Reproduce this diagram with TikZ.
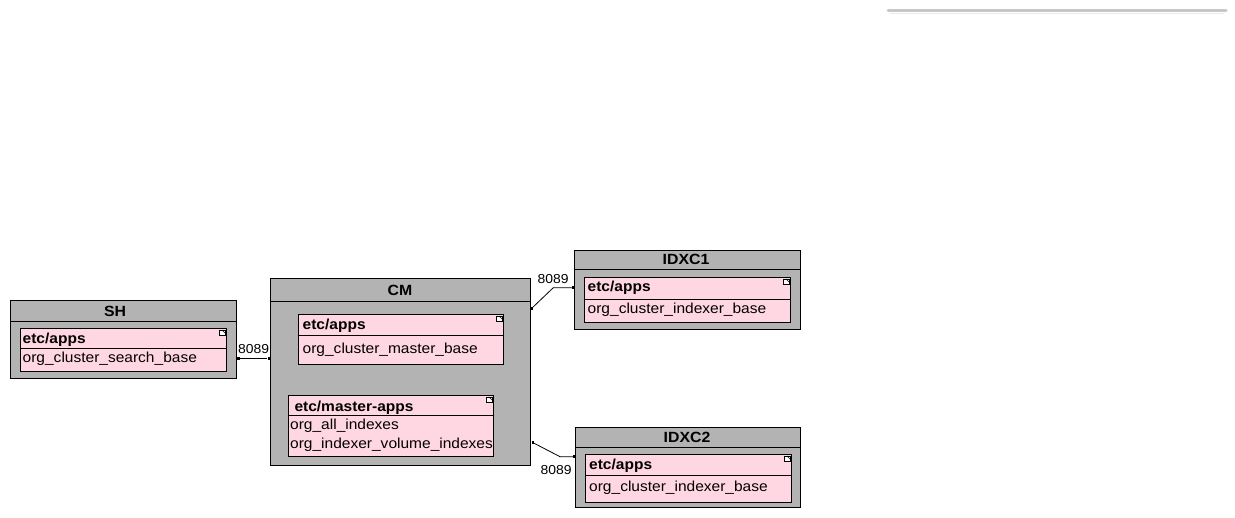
\documentclass[tikz,border=0pt]{standalone}
\usepackage{fontspec}
\setmainfont{Liberation Sans}[FakeStretch=1.07]
\definecolor{boxgray}{RGB}{179,179,179}
\definecolor{notepink}{RGB}{255,215,227}
\begin{document}
\begin{tikzpicture}[x=1pt,y=-1pt,
  outerbox/.style={draw=black,line width=1pt,fill=boxgray,anchor=north west,inner sep=0pt,outer sep=0pt},
  pinkbox/.style={draw=black,line width=1pt,fill=notepink,anchor=north west,inner sep=0pt,outer sep=0pt},
  txt/.style={inner sep=0pt,anchor=base west,font=\fontsize{14.5pt}{17pt}\selectfont},
  btxt/.style={txt,font=\fontsize{14.5pt}{17pt}\selectfont\bfseries},
  hdr/.style={inner sep=0pt,anchor=base,font=\fontsize{14.8pt}{17pt}\selectfont\bfseries},
  lbl/.style={inner sep=0pt,anchor=base west,font=\fontsize{13pt}{15pt}\selectfont},
  pin/.style={fill=black,inner sep=0pt,minimum size=3pt},
  conn/.style={draw=black,line width=0.8pt}
]
\useasboundingbox (0,0) rectangle (1235,518);
\fill[white] (0,0) rectangle (1235,518);
% faint shadow bar at top right
\draw[line width=3pt,black!22,line cap=round] (888,10.5) -- (1226,10.5);
\draw[line width=1.5pt,black!8] (890,13.5) -- (1224,13.5);

% ---------- SH ----------
\node[outerbox,minimum width=226pt,minimum height=78pt] (SH) at (10,301) {};
\draw[line width=1pt] ([yshift=-20.5pt]SH.north west) -- ([yshift=-20.5pt]SH.north east);
\node[hdr] (SHt) at (115,316.5) {SH};
\node[pinkbox,minimum width=206pt,minimum height=43pt] (SHp) at (20,329) {};
\draw[line width=1pt] ([yshift=-20pt]SHp.north west) -- ([yshift=-20pt]SHp.north east);
\node[btxt] (SHa) at (22.5,343.5) {etc/apps};
\node[txt] (SHb) at (22.5,362.7) {org\_cluster\_search\_base};

% ---------- CM ----------
\node[outerbox,minimum width=260pt,minimum height=187pt] (CM) at (270,279) {};
\draw[line width=1pt] ([yshift=-22.5pt]CM.north west) -- ([yshift=-22.5pt]CM.north east);
\node[hdr] (CMt) at (400,296) {CM};
\node[pinkbox,minimum width=205pt,minimum height=50pt] (CMp1) at (298,315) {};
\draw[line width=1pt] ([yshift=-20.7pt]CMp1.north west) -- ([yshift=-20.7pt]CMp1.north east);
\node[btxt] (CMa) at (302.5,330) {etc/apps};
\node[txt] (CMb) at (302.5,353.5) {org\_cluster\_master\_base};
\node[pinkbox,minimum width=205pt,minimum height=61pt] (CMp2) at (288,396) {};
\draw[line width=1pt] ([yshift=-20pt]CMp2.north west) -- ([yshift=-20pt]CMp2.north east);
\node[btxt] (CMc) at (294.3,411.3) {etc/master-apps};
\node[txt] (CMd) at (290,429.3) {org\_all\_indexes};
\node[txt] (CMe) at (290,448.7) {org\_indexer\_volume\_indexes};

% ---------- IDXC1 ----------
\node[outerbox,minimum width=226pt,minimum height=79pt] (I1) at (574,251) {};
\draw[line width=1pt] ([yshift=-19pt]I1.north west) -- ([yshift=-19pt]I1.north east);
\node[hdr] (I1t) at (686,265) {IDXC1};
\node[pinkbox,minimum width=206pt,minimum height=45pt] (I1p) at (584,278) {};
\draw[line width=1pt] ([yshift=-22pt]I1p.north west) -- ([yshift=-22pt]I1p.north east);
\node[btxt] (I1a) at (587.5,292) {etc/apps};
\node[txt] (I1b) at (587.5,313.5) {org\_cluster\_indexer\_base};

% ---------- IDXC2 ----------
\node[outerbox,minimum width=225pt,minimum height=80pt] (I2) at (575,428) {};
\draw[line width=1pt] ([yshift=-20pt]I2.north west) -- ([yshift=-20pt]I2.north east);
\node[hdr] (I2t) at (687,442.3) {IDXC2};
\node[pinkbox,minimum width=206pt,minimum height=48pt] (I2p) at (585,455) {};
\draw[line width=1pt] ([yshift=-21pt]I2p.north west) -- ([yshift=-21pt]I2p.north east);
\node[btxt] (I2a) at (589,470) {etc/apps};
\node[txt] (I2b) at (589,491.7) {org\_cluster\_indexer\_base};

% ---------- note icons ----------
\foreach \p in {SHp,CMp1,CMp2,I1p,I2p}{
  \draw[line width=0.6pt,fill=white] ([xshift=-7pt,yshift=-1pt]\p.north east) rectangle ([xshift=-1pt,yshift=-6pt]\p.north east);
  \draw[line width=0.6pt] ([xshift=-4pt,yshift=-1pt]\p.north east) -- ([xshift=-1pt,yshift=-4pt]\p.north east);
}

% ---------- connectors ----------
\node[pin] (s1) at (238,358.3) {};
\node[pin] (s2) at (269,358.3) {};
\draw[conn] (s1) -- (s2);
\node[lbl] (l1) at (238,353.3) {8089};

\node[pin,minimum size=2.5pt] (c1) at (531.5,308.5) {};
\coordinate (c1m) at (553.3,287.7);
\node[pin] (c1e) at (573,287.7) {};
\draw[conn] (c1.center) -- (c1m) -- (c1e.center);
\node[lbl] (l2) at (537.5,283.5) {8089};

\node[pin,minimum size=2.5pt] (c2) at (533,442.7) {};
\coordinate (c2m) at (560,456.7);
\node[pin] (c2e) at (574,456.7) {};
\draw[conn] (c2.center) -- (c2m) -- (c2e.center);
\node[lbl] (l3) at (540.5,475) {8089};
\end{tikzpicture}
\end{document}
